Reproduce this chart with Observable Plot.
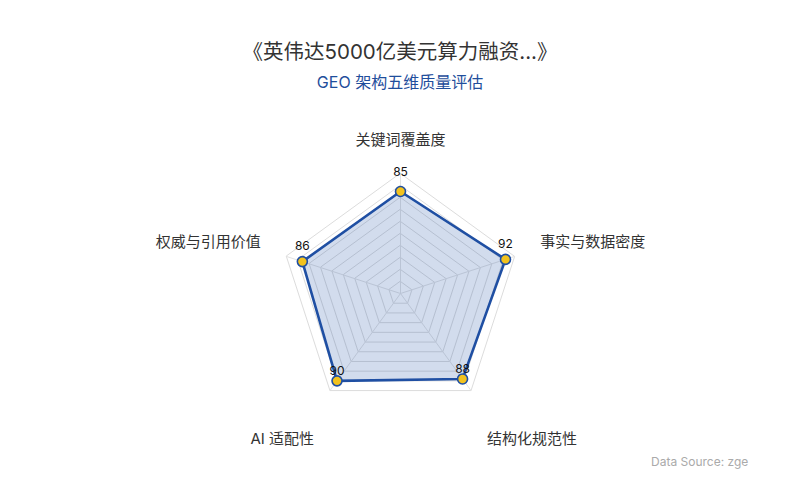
<!DOCTYPE html>
<html>
<head>
<meta charset="utf-8">
<script src="https://cdn.jsdelivr.net/npm/d3@7"></script>
<script src="https://cdn.jsdelivr.net/npm/@observablehq/plot@0.6"></script>
<style>
  html, body { margin: 0; padding: 0; background: #fff; }
  body { width: 800px; height: 500px; position: relative; overflow: hidden;
         font-family: Inter, "Noto Sans CJK SC", "Noto Sans", sans-serif; }
  #title { position: absolute; top: 39px; left: 0; width: 800px; text-align: center;
           font-size: 20.5px; line-height: 26px; color: #333; }
  #subtitle { position: absolute; top: 71px; left: 0; width: 800px; text-align: center;
              font-size: 16px; line-height: 22px; color: #1f4e9c; }
  #chart { position: absolute; top: 92px; left: 0; }
  #source { position: absolute; top: 454px; left: 651px; white-space: nowrap;
            font-size: 12px; line-height: 16px; color: #aaa; }
</style>
</head>
<body>
<div id="title">《英伟达5000亿美元算力融资...》</div>
<div id="subtitle">GEO 架构五维质量评估</div>
<div id="chart"></div>
<div id="source">Data Source: zge</div>
<script>
// ---- data ----
const categories = ["关键词覆盖度", "事实与数据密度", "结构化规范性", "AI 适配性", "权威与引用价值"];
const values = [85, 92, 88, 90, 86];
const ringLevels = [10, 20, 30, 40, 50, 60, 70, 80, 90, 100];
const maxValue = 100;

// ---- layout constants ----
const W = 800, H = 408;
const pxPerUnit = 1.2;          // 100 -> 120 px
const cxPx = 400, cyPx = 201;   // centre inside svg
const angle = i => -Math.PI / 2 + i * 2 * Math.PI / categories.length;

const series = categories.map((c, i) => ({cat: c, value: values[i], a: angle(i)}));
const rings = ringLevels.flatMap(level => categories.map((c, i) => ({level, a: angle(i)})));
const spokes = categories.map((c, i) => ({a: angle(i)}));

const labelR = 147 / pxPerUnit;
const labels = categories.map((c, i) => {
  const a = angle(i), s = Math.sin(a), co = Math.cos(a);
  return {
    cat: c,
    x: labelR * co,
    y: labelR * s + (s > 0.5 ? 27 : -6) / pxPerUnit,
    anchor: Math.abs(co) < 0.1 ? "middle" : (co > 0 ? "start" : "end")
  };
});

const blue = "#1f4fa3";

const chart = Plot.plot({
  width: W,
  height: H,
  margin: 0,
  style: {fontFamily: 'Inter, "Noto Sans CJK SC", sans-serif', background: "transparent"},
  x: {domain: [-cxPx / pxPerUnit, (W - cxPx) / pxPerUnit], range: [0, W], axis: null},
  y: {domain: [-cyPx / pxPerUnit, (H - cyPx) / pxPerUnit], range: [0, H], axis: null},
  marks: [
    Plot.line(rings, {
      x: d => d.level * Math.cos(d.a), y: d => d.level * Math.sin(d.a),
      z: "level", curve: "linear-closed", stroke: "#dcdcdc", strokeWidth: 1
    }),
    Plot.link(spokes, {
      x1: 0, y1: 0,
      x2: d => maxValue * Math.cos(d.a), y2: d => maxValue * Math.sin(d.a),
      stroke: "#e2e2e2", strokeWidth: 1
    }),
    Plot.line(series, {
      x: d => d.value * Math.cos(d.a), y: d => d.value * Math.sin(d.a),
      curve: "linear-closed", fill: blue, fillOpacity: 0.2, stroke: "none"
    }),
    Plot.line(series, {
      x: d => d.value * Math.cos(d.a), y: d => d.value * Math.sin(d.a),
      curve: "linear-closed", stroke: blue, strokeWidth: 2.6, strokeLinejoin: "round"
    }),
    Plot.dot(series, {
      x: d => d.value * Math.cos(d.a), y: d => d.value * Math.sin(d.a),
      r: 5, fill: "#f2c21e", stroke: blue, strokeWidth: 1.6
    }),
    Plot.text(series, {
      x: d => d.value * Math.cos(d.a), y: d => d.value * Math.sin(d.a),
      text: d => String(d.value), fontSize: 12, fill: "#111"
    }),
    ...["start", "middle", "end"].map(anchor =>
      Plot.text(labels.filter(l => l.anchor === anchor), {
        x: "x", y: "y", text: "cat", textAnchor: anchor,
        fontSize: 15, fill: "#333"
      })
    )
  ]
});

// value label vertical offsets depend on direction
const valueTexts = chart.querySelectorAll("g[aria-label='text']")[0];
if (valueTexts) {
  valueTexts.querySelectorAll("text").forEach((t, i) => {
    const s = Math.sin(series[i].a);
    const dy = -14 + 5 * s;
    t.setAttribute("transform", (t.getAttribute("transform") || "") + ` translate(0,${dy})`);
  });
}
document.getElementById("chart").appendChild(chart);
</script>
</body>
</html>
